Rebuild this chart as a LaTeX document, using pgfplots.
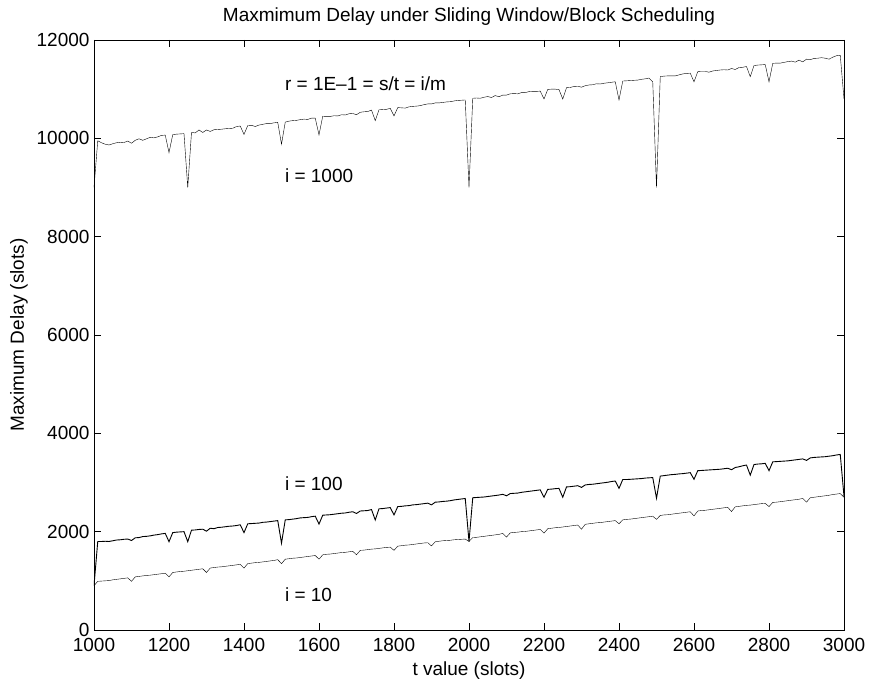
\documentclass[border=0pt]{standalone}
\usepackage{pgfplots}
\pgfplotsset{compat=1.18}
\usepackage{pgfplotstable}
\usepackage{fontspec}
\setmainfont{Liberation Sans}
\pgfplotstableread{
t top mid bot
1000 9000 900 900
1010 9950 1800 990
1020 9910 1800 995
1030 9880 1805 1000
1040 9865 1800 1005
1050 9890 1815 1020
1060 9910 1830 1030
1070 9920 1835 1040
1080 9915 1845 1050
1090 9945 1850 1060
1100 9900 1820 990
1110 9960 1875 1080
1120 9990 1880 1090
1130 9960 1900 1100
1140 9990 1905 1110
1150 10020 1915 1115
1160 10010 1930 1125
1170 10030 1940 1135
1180 10060 1955 1145
1190 10065 1965 1155
1200 9710 1796 1080
1210 10075 1980 1170
1220 10085 1990 1180
1230 10090 1995 1190
1240 10095 2000 1195
1250 9000 1796 1205
1260 10120 2030 1215
1270 10110 2035 1225
1280 10170 2045 1235
1290 10120 2050 1245
1300 10170 2010 1170
1310 10140 2070 1260
1320 10175 2060 1270
1330 10180 2085 1280
1340 10185 2090 1285
1350 10195 2100 1295
1360 10200 2110 1305
1370 10205 2115 1315
1380 10240 2125 1325
1390 10250 2140 1335
1400 10080 1980 1260
1410 10260 2160 1350
1420 10265 2165 1360
1430 10240 2170 1370
1440 10270 2175 1375
1450 10285 2190 1385
1460 10300 2195 1395
1470 10300 2205 1405
1480 10315 2215 1415
1490 10325 2225 1430
1500 9880 1765 1350
1510 10330 2240 1440
1520 10350 2245 1450
1530 10360 2255 1460
1540 10365 2265 1465
1550 10380 2280 1475
1560 10390 2285 1485
1570 10385 2290 1495
1580 10410 2305 1505
1590 10410 2315 1515
1600 10070 2155 1440
1610 10450 2335 1530
1620 10445 2340 1540
1630 10445 2345 1545
1640 10460 2355 1555
1650 10455 2365 1565
1660 10480 2375 1575
1670 10475 2380 1580
1680 10500 2395 1590
1690 10505 2405 1600
1700 10480 2370 1530
1710 10530 2420 1620
1720 10540 2425 1625
1730 10545 2430 1635
1740 10575 2450 1645
1750 10360 2237 1650
1760 10580 2465 1660
1770 10585 2470 1670
1780 10590 2480 1680
1790 10610 2490 1685
1800 10455 2340 1620
1810 10625 2510 1705
1820 10620 2515 1715
1830 10615 2525 1725
1840 10640 2530 1730
1850 10650 2545 1740
1860 10655 2550 1750
1870 10665 2560 1760
1880 10685 2570 1770
1890 10700 2580 1775
1900 10700 2545 1710
1910 10720 2600 1795
1920 10720 2605 1805
1930 10730 2615 1815
1940 10740 2620 1820
1950 10745 2630 1825
1960 10760 2645 1835
1970 10770 2655 1840
1980 10775 2665 1845
1990 10780 2675 1850
2000 9000 1800 1800
2010 10815 2690 1880
2020 10820 2695 1885
2030 10815 2700 1895
2040 10835 2705 1905
2050 10850 2715 1915
2060 10830 2725 1925
2070 10870 2735 1935
2080 10845 2745 1945
2090 10880 2760 1965
2100 10880 2730 1890
2110 10905 2775 1975
2120 10910 2780 1985
2130 10905 2785 1990
2140 10930 2800 2000
2150 10930 2810 2005
2160 10950 2820 2015
2170 10955 2830 2025
2180 10955 2840 2035
2190 10960 2850 2045
2200 10800 2700 1970
2210 10995 2860 2060
2220 11000 2865 2070
2230 11000 2875 2080
2240 10990 2880 2085
2250 10800 2700 2095
2260 11030 2910 2105
2270 11035 2915 2115
2280 11055 2925 2125
2290 11060 2935 2135
2300 11040 2900 2050
2310 11070 2950 2150
2320 11085 2960 2160
2330 11090 2965 2170
2340 11110 2975 2180
2350 11105 2985 2185
2360 11120 2995 2195
2370 11130 3005 2205
2380 11140 3020 2215
2390 11150 3030 2225
2400 10780 2880 2160
2410 11165 3060 2240
2420 11170 3060 2250
2430 11175 3065 2255
2440 11180 3070 2265
2450 11185 3075 2275
2460 11200 3080 2285
2470 11210 3090 2295
2480 11225 3095 2305
2490 11150 3100 2315
2500 9000 2680 2250
2510 11255 3130 2330
2520 11265 3140 2340
2530 11270 3150 2345
2540 11270 3160 2355
2550 11270 3165 2365
2560 11290 3175 2375
2570 11310 3180 2385
2580 11320 3190 2395
2590 11325 3200 2405
2600 11150 3065 2320
2610 11355 3240 2420
2620 11360 3245 2430
2630 11360 3250 2435
2640 11345 3255 2445
2650 11370 3260 2455
2660 11380 3265 2465
2670 11390 3270 2475
2680 11395 3280 2485
2690 11390 3290 2495
2700 11420 3260 2410
2710 11400 3305 2505
2720 11440 3320 2515
2730 11445 3340 2525
2740 11460 3355 2535
2750 11255 3150 2540
2760 11480 3365 2550
2770 11490 3375 2560
2780 11495 3380 2570
2790 11500 3390 2575
2800 11150 3240 2510
2810 11525 3420 2595
2820 11530 3425 2600
2830 11530 3430 2610
2840 11545 3435 2620
2850 11560 3440 2630
2860 11570 3450 2640
2870 11550 3460 2650
2880 11590 3470 2660
2890 11555 3480 2675
2900 11610 3450 2600
2910 11600 3500 2690
2920 11625 3510 2700
2930 11630 3515 2710
2940 11640 3520 2720
2950 11630 3525 2730
2960 11610 3535 2740
2970 11650 3545 2755
2980 11680 3560 2765
2990 11690 3570 2775
3000 10800 2720 2700
}\datatable
\begin{document}
\begin{tikzpicture}
\begin{axis}[
  scale only axis,
  width=750pt, height=590pt,
  xmin=1000, xmax=3000, ymin=0, ymax=12000,
  xtick={1000,1200,...,3000},
  ytick={0,2000,...,12000},
  scaled ticks=false,
  tick align=inside,
  major tick length=7pt,
  tick style={black, line width=0.6pt},
  axis line style={black, line width=0.8pt},
  /pgf/number format/.cd, 1000 sep={}, assume math mode=true,
  /pgfplots/.cd,
  ticklabel style={font=\fontsize{19}{22}\selectfont},
  xticklabel style={yshift=-5pt},
  yticklabel style={xshift=-1pt},
  title={Maxmimum Delay under Sliding Window/Block Scheduling},
  title style={at={(axis description cs:0.5,1.03)}, anchor=center, font=\fontsize{19}{22}\selectfont},
  xlabel={t value (slots)},
  xlabel style={at={(axis description cs:0.5,-0.068)}, anchor=center, font=\fontsize{19}{22}\selectfont},
  ylabel={Maximum Delay (slots)},
  ylabel style={at={(axis description cs:-0.1,0.5)}, anchor=center, font=\fontsize{19}{22}\selectfont},
  cycle list={{black, line width=0.9pt, line join=miter, mark=none}},
]
\addplot table[x=t, y=top] {\datatable};
\addplot table[x=t, y=mid] {\datatable};
\addplot table[x=t, y=bot] {\datatable};
\node[anchor=west, font=\fontsize{19}{22}\selectfont] at (axis cs:1500,11120) {r = 1E\textendash1 = s/t = i/m};
\node[anchor=west, font=\fontsize{19}{22}\selectfont] at (axis cs:1500,9234) {i = 1000};
\node[anchor=west, font=\fontsize{19}{22}\selectfont] at (axis cs:1500,2983) {i = 100};
\node[anchor=west, font=\fontsize{19}{22}\selectfont] at (axis cs:1500,726) {i = 10};
\coordinate (sw) at (rel axis cs:0,0);
\coordinate (ne) at (rel axis cs:1,1);
\end{axis}
\pgfresetboundingbox
\path[use as bounding box] ([shift={(-94pt,-55pt)}]sw) rectangle ([shift={(29pt,40pt)}]ne);
\end{tikzpicture}
\end{document}
